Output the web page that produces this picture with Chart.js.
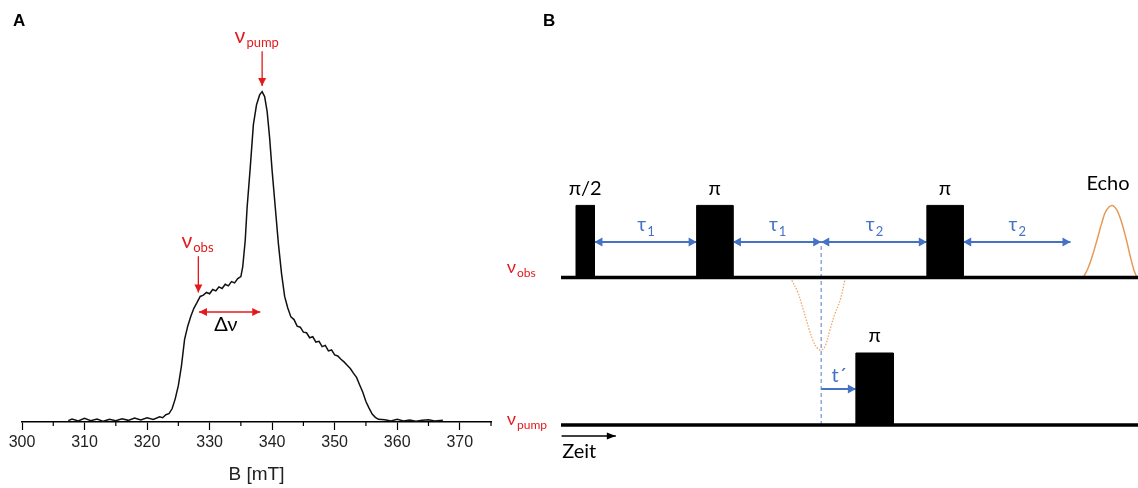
<!DOCTYPE html>
<html>
<head>
<meta charset="utf-8">
<script src="https://cdn.jsdelivr.net/npm/chart.js@4"></script>
<style>
html, body { margin: 0; padding: 0; background: #fff; overflow: hidden; }
#wrap { position: relative; width: 1138px; height: 488px; }
#specChart { position: absolute; left: 0; top: 0; }
#pulseChart { position: absolute; left: 490px; top: 0; }
</style>
</head>
<body>
<div id="wrap">
  <canvas id="specChart" width="500" height="488"></canvas>
  <canvas id="pulseChart" width="648" height="488"></canvas>
</div>
<script>
// A: EPR-Spektrum
const fieldMT = [307.4, 308, 309, 310, 311, 312, 313, 314, 315, 316, 317, 318, 319, 320, 321, 322, 322.5, 323, 323.5, 324, 324.5,
  325, 325.5, 326, 326.5, 327, 327.5, 328, 328.5, 329, 329.5, 330, 330.5, 331, 331.5, 332, 332.5, 333, 333.5, 334, 334.5, 335,
  335.3, 335.7, 336, 336.5, 337, 337.5, 338, 338.4, 338.8, 339.2, 339.6, 340, 340.5, 341, 341.5, 342, 342.5, 343, 343.5, 344,
  344.5, 345, 345.5, 346, 346.5, 347, 347.5, 348, 348.5, 349, 349.5, 350, 350.5, 351, 351.5, 352, 352.5, 353, 353.5, 354, 354.5,
  355, 355.5, 356, 356.5, 357, 358, 359, 360, 361, 362, 363, 364, 365, 366, 367.3];
const intensity = [0.004, 0.009, 0.003, 0.011, 0.004, 0.009, 0.002, 0.008, 0.004, 0.010, 0.005, 0.012, 0.006, 0.013, 0.008, 0.016, 0.013, 0.022, 0.025, 0.04, 0.07,
  0.11, 0.17, 0.25, 0.29, 0.32, 0.345, 0.362, 0.38, 0.384, 0.392, 0.388, 0.401, 0.397, 0.409, 0.404, 0.417, 0.412, 0.425, 0.421, 0.434, 0.44,
  0.47, 0.55, 0.65, 0.77, 0.9, 0.96, 0.99, 1.0, 0.985, 0.94, 0.86, 0.76, 0.65, 0.54, 0.45, 0.38, 0.345, 0.318, 0.31, 0.29,
  0.287, 0.272, 0.27, 0.255, 0.258, 0.242, 0.244, 0.228, 0.232, 0.215, 0.218, 0.203, 0.2, 0.19, 0.182, 0.172, 0.162, 0.148, 0.135, 0.112, 0.09,
  0.062, 0.042, 0.024, 0.014, 0.008, 0.007, 0.003, 0.008, 0.003, 0.006, 0.002, 0.005, 0.007, 0.003, 0.005];
const tickLabels = [300, 310, 320, 330, 340, 350, 360, 370];

// Markierungen im Spektrum
const pumpMark = [[338.4, 1.122], [338.4, 1.017]];
const obsMark = [[328.2, 0.502], [328.2, 0.392]];
const deltaMark = [[328.3, 0.333], [338.1, 0.333]];

// B: Pulssequenz (Zeit in willk. Einheiten, Amplitude in Pulshoehen)
const channelBase = [2.05, 0];        // nu_obs, nu_pump
const timeEnd = 100;
const pulseHeight = 1.0;
const obsPulses = [[2.6, 5.8], [23.5, 29.8], [63.4, 69.7]];
const obsPulseLabels = ['π/2', 'π', 'π'];
const pumpPulses = [[51.1, 57.6]];
const pumpPulseLabels = ['π'];
const tauArrows = [[5.8, 23.5], [29.8, 45.1], [45.1, 63.4], [69.7, 88.3]];
const tauIndex = ['1', '1', '2', '2'];
const tPrime = [45.1, 51.1];
const echoT = [90.5, 91.3, 92.1, 92.9, 93.7, 94.5, 95.5, 96.3, 97.1, 97.9, 98.7, 99.3, 99.8];
const echoAmp = [0, 0.12, 0.3, 0.52, 0.75, 0.93, 1.0, 0.94, 0.78, 0.55, 0.28, 0.1, 0];
const dipT = [40.0, 41.0, 42.0, 43.0, 43.7, 44.4, 45.1, 45.8, 46.6, 47.5, 48.4, 49.2];
const dipAmp = [-0.04, -0.2, -0.45, -0.72, -0.88, -0.98, -1.01, -0.95, -0.73, -0.5, -0.31, -0.04];

const RED = '#e3191c';
const BLUE = '#4472c4';
const SANS = "Lato, 'Noto Sans', sans-serif";

function head(ctx, from, to, color, len, w) {
  const ang = Math.atan2(to.y - from.y, to.x - from.x);
  ctx.save();
  ctx.translate(to.x, to.y);
  ctx.rotate(ang);
  ctx.beginPath();
  ctx.moveTo(0, 0);
  ctx.lineTo(-len, -w);
  ctx.lineTo(-len, w);
  ctx.closePath();
  ctx.fillStyle = color;
  ctx.fill();
  ctx.restore();
}

const arrowHeads = {
  id: 'arrowHeads',
  afterDatasetsDraw(chart) {
    const ctx = chart.ctx;
    chart.data.datasets.forEach((ds, i) => {
      if (!ds.heads) return;
      const pts = chart.getDatasetMeta(i).data;
      const a = pts[0], b = pts[pts.length - 1];
      const len = ds.headLen || 8, w = ds.headW || 4;
      if (ds.heads.includes('end')) head(ctx, a, b, ds.borderColor, len, w);
      if (ds.heads.includes('start')) head(ctx, b, a, ds.borderColor, len, w);
    });
  }
};

// Text mit Index
function subText(ctx, main, sub, x, y, size, subSize, color, align) {
  ctx.save();
  ctx.fillStyle = color;
  ctx.textBaseline = 'alphabetic';
  ctx.textAlign = 'left';
  ctx.font = size + 'px ' + SANS;
  const w1 = ctx.measureText(main).width;
  ctx.font = subSize + 'px ' + SANS;
  const w2 = sub ? ctx.measureText(sub).width : 0;
  let x0 = x;
  if (align === 'center') x0 = x - (w1 + w2) / 2;
  ctx.font = size + 'px ' + SANS;
  ctx.fillText(main, x0, y);
  if (sub) {
    ctx.font = subSize + 'px ' + SANS;
    ctx.fillText(sub, x0 + w1 + 1, y + subSize * 0.35);
  }
  ctx.restore();
}

const pts = (arr) => arr.map(p => ({ x: p[0], y: p[1] }));

// ---------- A ----------
const specLabels = {
  id: 'specLabels',
  afterDraw(chart) {
    const { ctx, scales: { x, y } } = chart;
    // kleine Striche
    ctx.save();
    ctx.strokeStyle = '#000';
    ctx.lineWidth = 1.2;
    x.ticks.forEach(t => {
      if (tickLabels.includes(t.value)) return;
      const px = x.getPixelForValue(t.value);
      ctx.beginPath();
      ctx.moveTo(px, y.bottom);
      ctx.lineTo(px, y.bottom + 4);
      ctx.stroke();
    });
    ctx.fillStyle = '#000';
    ctx.font = "bold 17px 'Liberation Sans', Arial, sans-serif";
    ctx.fillText('A', 13, 26);
    ctx.restore();
    subText(ctx, 'ν', 'pump', x.getPixelForValue(334.0), y.getPixelForValue(1.148), 21, 13, RED, 'left');
    subText(ctx, 'ν', 'obs', x.getPixelForValue(325.5), y.getPixelForValue(0.528), 21, 13, RED, 'left');
    subText(ctx, 'Δν', '', x.getPixelForValue(332.6), y.getPixelForValue(0.276), 20, 13, '#000', 'center');
  }
};

new Chart(document.getElementById('specChart'), {
  type: 'line',
  data: {
    datasets: [
      { data: fieldMT.map((b, i) => ({ x: b, y: intensity[i] })), borderColor: '#111', borderWidth: 1.5, pointRadius: 0, tension: 0 },
      { data: pts(pumpMark), borderColor: RED, borderWidth: 1.3, pointRadius: 0, heads: ['end'], headLen: 8, headW: 4, clip: false },
      { data: pts(obsMark), borderColor: RED, borderWidth: 1.3, pointRadius: 0, heads: ['end'], headLen: 8, headW: 4, clip: false },
      { data: pts(deltaMark), borderColor: RED, borderWidth: 1.5, pointRadius: 0, heads: ['start', 'end'], headLen: 8, headW: 4, clip: false }
    ]
  },
  options: {
    responsive: false,
    animation: false,
    devicePixelRatio: 1,
    layout: { padding: { left: 22, right: 9, top: 9, bottom: 2 } },
    plugins: { legend: { display: false }, tooltip: { enabled: false } },
    scales: {
      x: {
        type: 'linear', min: 300, max: 375,
        border: { color: '#000', width: 1.5 },
        grid: {
          drawOnChartArea: false, drawTicks: true, tickLength: 8, tickWidth: 1.2,
          tickColor: (c) => (c.tick && tickLabels.includes(c.tick.value)) ? '#000' : 'rgba(0,0,0,0)'
        },
        ticks: {
          stepSize: 5, autoSkip: false, maxRotation: 0, padding: 3,
          color: '#222', font: { size: 16 },
          callback: (v) => tickLabels.includes(v) ? String(v) : ''
        },
        title: { display: true, text: 'B [mT]', color: '#222', font: { size: 19 }, padding: { top: 8, bottom: 0 } }
      },
      y: { display: false, min: 0, max: 1.25 }
    }
  },
  plugins: [arrowHeads, specLabels]
});

// ---------- B ----------
const [obsBase, pumpBase] = channelBase;
const pulseSets = [];
obsPulses.forEach(p => pulseSets.push({ t: p, b: obsBase }));
pumpPulses.forEach(p => pulseSets.push({ t: p, b: pumpBase }));

const pulseDatasets = pulseSets.map(s => ({
  data: [{ x: s.t[0], y: s.b }, { x: s.t[0], y: s.b + pulseHeight }, { x: s.t[1], y: s.b + pulseHeight }, { x: s.t[1], y: s.b }],
  borderColor: '#000', backgroundColor: '#000', borderWidth: 1, pointRadius: 0,
  fill: { value: s.b }, clip: false
}));

const arrowY = obsBase + pulseHeight * 0.49;
const tauDatasets = tauArrows.map(a => ({
  data: [{ x: a[0], y: arrowY }, { x: a[1], y: arrowY }],
  borderColor: BLUE, borderWidth: 2, pointRadius: 0, heads: ['start', 'end'], headLen: 8, headW: 4.5, clip: false
}));

const baselineDatasets = channelBase.map(b => ({
  data: [{ x: 0, y: b }, { x: timeEnd, y: b }],
  borderColor: '#000', borderWidth: 3.5, pointRadius: 0, clip: false
}));

const pulseLabels = {
  id: 'pulseLabels',
  afterDraw(chart) {
    const { ctx, scales: { x, y } } = chart;
    obsPulses.forEach((p, i) => {
      subText(ctx, obsPulseLabels[i], '', x.getPixelForValue((p[0] + p[1]) / 2), y.getPixelForValue(obsBase + pulseHeight + 0.14), 20, 13, '#000', 'center');
    });
    pumpPulses.forEach((p, i) => {
      subText(ctx, pumpPulseLabels[i], '', x.getPixelForValue((p[0] + p[1]) / 2), y.getPixelForValue(pumpBase + pulseHeight + 0.15), 20, 13, '#000', 'center');
    });
    tauArrows.forEach((a, i) => {
      subText(ctx, 'τ', tauIndex[i], x.getPixelForValue((a[0] + a[1]) / 2), y.getPixelForValue(arrowY + 0.15), 19, 13, BLUE, 'center');
    });
    subText(ctx, 't´', '', x.getPixelForValue(48.2), y.getPixelForValue(pumpBase + 0.6), 20, 13, BLUE, 'center');
    subText(ctx, 'Echo', '', x.getPixelForValue(94.8), y.getPixelForValue(obsBase + 1.21), 20, 13, '#000', 'center');
    subText(ctx, 'ν', 'obs', x.getPixelForValue(-9.4), y.getPixelForValue(obsBase + 0.06), 18, 12, RED, 'left');
    subText(ctx, 'ν', 'pump', x.getPixelForValue(-9.4), y.getPixelForValue(pumpBase), 18, 12, RED, 'left');
    subText(ctx, 'Zeit', '', x.getPixelForValue(0.2), y.getPixelForValue(-0.46), 20, 13, '#000', 'left');
    ctx.save();
    ctx.fillStyle = '#000';
    ctx.font = "bold 17px 'Liberation Sans', Arial, sans-serif";
    ctx.fillText('B', 53, 26);
    ctx.restore();
  }
};

new Chart(document.getElementById('pulseChart'), {
  type: 'line',
  data: {
    datasets: [
      ...pulseDatasets,
      ...tauDatasets,
      { data: [{ x: tPrime[0], y: pumpBase + 0.5 }, { x: tPrime[1], y: pumpBase + 0.5 }], borderColor: BLUE, borderWidth: 2, pointRadius: 0, heads: ['end'], headLen: 8, headW: 4.5, clip: false },
      { data: [{ x: 0.1, y: -0.153 }, { x: 9.5, y: -0.153 }], borderColor: '#000', borderWidth: 1.5, pointRadius: 0, heads: ['end'], headLen: 9, headW: 3.5, clip: false },
      ...baselineDatasets,
      { data: [{ x: tPrime[0], y: pumpBase }, { x: tPrime[0], y: arrowY }], borderColor: '#8eaadb', borderWidth: 1.5, borderDash: [4, 3], pointRadius: 0, clip: false },
      { data: echoT.map((t, i) => ({ x: t, y: obsBase + echoAmp[i] })), borderColor: '#e69a57', borderWidth: 1.5, pointRadius: 0, tension: 0.4, clip: false },
      { data: dipT.map((t, i) => ({ x: t, y: obsBase + dipAmp[i] })), borderColor: '#f0a868', borderWidth: 1.3, borderDash: [1.5, 1.5], pointRadius: 0, tension: 0.4, clip: false }
    ]
  },
  options: {
    responsive: false,
    animation: false,
    devicePixelRatio: 1,
    layout: { padding: { left: 71, right: 0, top: 173, bottom: 27 } },
    plugins: { legend: { display: false }, tooltip: { enabled: false } },
    scales: {
      x: { type: 'linear', display: false, min: 0, max: timeEnd },
      y: { display: false, min: -0.5, max: 3.5 }
    }
  },
  plugins: [arrowHeads, pulseLabels]
});
</script>
</body>
</html>
